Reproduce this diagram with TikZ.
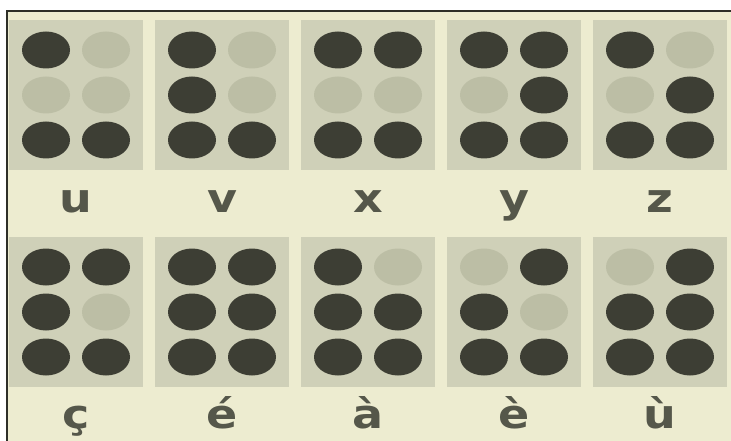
\documentclass[tikz,border=0pt]{standalone}
\usepackage{fontspec}
\newfontfamily\labelfont{DejaVu Sans}
\usetikzlibrary{shapes.geometric}

\begin{document}
\begin{tikzpicture}[
  x=1pt,y=-1pt,
  cellbox/.style={rectangle,fill=cellGray,minimum width=134pt,
                  minimum height=150pt,inner sep=0pt},
  brailledot/.style={ellipse,minimum width=48pt,minimum height=37pt,
                     inner sep=0pt},
  letter/.style={anchor=base,inner sep=0pt,text=letterGray,transform shape,
                 xscale=1.15,font=\labelfont\bfseries\fontsize{40}{40}\selectfont},
]
\definecolor{paper}{HTML}{EDECD0}
\definecolor{cellGray}{HTML}{CFD0B8}
\definecolor{dot0}{HTML}{BCBEA5}
\definecolor{dot1}{HTML}{3D3E34}
\definecolor{letterGray}{HTML}{55574A}
\definecolor{frameDark}{HTML}{2E2F28}

\useasboundingbox (0,0) rectangle (731,441);
\fill[white] (0,0) rectangle (731,441);
\fill[paper] (7,11) rectangle (731,441);
\draw[frameDark,line width=1.2pt] (7,441) |- (731,11);

% Ten braille cells: name/centre x/centre y/baseline/letter/dots 1..6
\foreach \nm/\cx/\cy/\bl/\txt/\a/\b/\c/\d/\e/\f in {
  u/76/95/212/u/1/0/1/0/0/1,
  v/222/95/212/v/1/1/1/0/0/1,
  x/368/95/212/x/1/0/1/1/0/1,
  y/514/95/212/y/1/0/1/1/1/1,
  z/660/95/212/z/1/0/1/0/1/1,
  cc/76/312/428/ç/1/1/1/1/0/1,
  ea/222/312/428/é/1/1/1/1/1/1,
  ag/368/312/428/à/1/1/1/0/1/1,
  eg/514/312/428/è/0/1/1/1/0/1,
  ug/660/312/428/ù/0/1/1/1/1/1}{
  \node[cellbox] (\nm) at (\cx,\cy) {};
  \foreach \k/\dx/\dy/\v in {1/-30/-45/\a,2/-30/0/\b,3/-30/45/\c,
                             4/30/-45/\d,5/30/0/\e,6/30/45/\f}
    \node[brailledot,fill=dot\v] (\nm-\k) at (\cx+\dx,\cy+\dy) {};
  \node[letter] (\nm-label) at (\cx,\bl) {\txt};
}
\end{tikzpicture}
\end{document}
